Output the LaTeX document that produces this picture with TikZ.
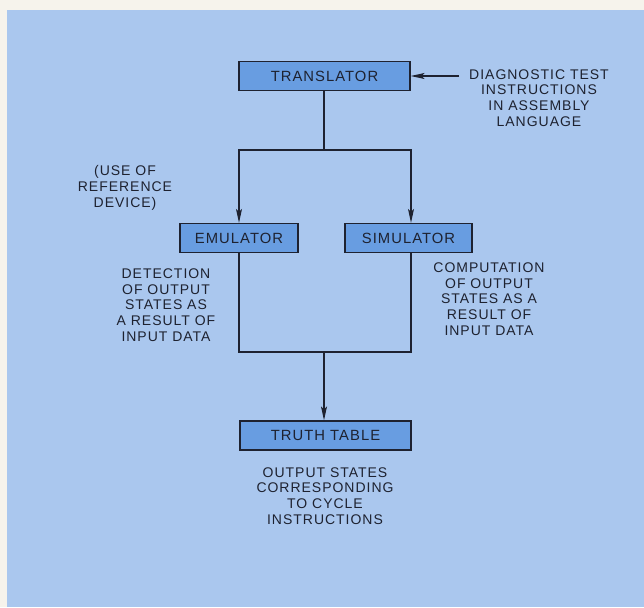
\documentclass[tikz,border=0pt]{standalone}
\usepackage{fontspec}
\setmainfont{Liberation Sans}[LetterSpace=7]
\usetikzlibrary{arrows.meta}
\definecolor{paper}{RGB}{246,243,236}
\definecolor{bgblue}{RGB}{170,199,238}
\definecolor{boxblue}{RGB}{104,157,225}
\definecolor{ink}{RGB}{30,34,48}
\tikzset{
  blk/.style={draw=ink, line width=1.3pt, fill=boxblue, minimum height=29pt, inner sep=0pt, font=\fontsize{14.8}{15}\selectfont, text=ink},
  note/.style={align=center, font=\fontsize{14}{15.8}\selectfont, text=ink, inner sep=0pt},
  wire/.style={draw=ink, line width=1.1pt},
  arr/.style={wire, -{Stealth[length=14pt,width=6pt,inset=3pt]}}
}
\begin{document}
\begin{tikzpicture}[x=1pt,y=-1pt]
\fill[paper] (0,0) rectangle (644,607);
\useasboundingbox (0,0) rectangle (644,607);
\fill[bgblue] (7,10) rectangle (644,607);
\node[blk, minimum width=171pt] (tr) at (324.5,76) {TRANSLATOR};
\node[blk, minimum width=118pt] (em) at (239,238) {EMULATOR};
\node[blk, minimum width=127pt] (si) at (408.5,238) {SIMULATOR};
\node[blk, minimum width=171pt] (tt) at (325.5,435.5) {TRUTH TABLE};
\coordinate (split) at (324,150);
\coordinate (join) at (324,352);
\coordinate (src) at (459,76);
\node[note] (diag) at (539,98) {DIAGNOSTIC TEST\\INSTRUCTIONS\\IN ASSEMBLY\\LANGUAGE};
\node[note] (use) at (125,188) {(USE OF\\REFERENCE\\DEVICE)};
\node[note] (det) at (166,305) {DETECTION\\OF OUTPUT\\STATES AS\\A RESULT OF\\INPUT DATA};
\node[note] (comp) at (489,299) {COMPUTATION\\OF OUTPUT\\STATES AS A\\RESULT OF\\INPUT DATA};
\node[note] (out) at (325,496) {OUTPUT STATES\\CORRESPONDING\\TO CYCLE\\INSTRUCTIONS};
\draw[arr] (src) -- (tr.east);
\draw[wire] (tr.south -| split) -- (split);
\draw[arr] (split) -| (em.north);
\draw[arr] (split) -| (si.north -| 411,0);
\draw[wire] (em.south) |- (join);
\draw[wire] (si.south -| 411,0) |- (join);
\draw[arr] (join) -- (tt.north -| join);
\end{tikzpicture}
\end{document}
